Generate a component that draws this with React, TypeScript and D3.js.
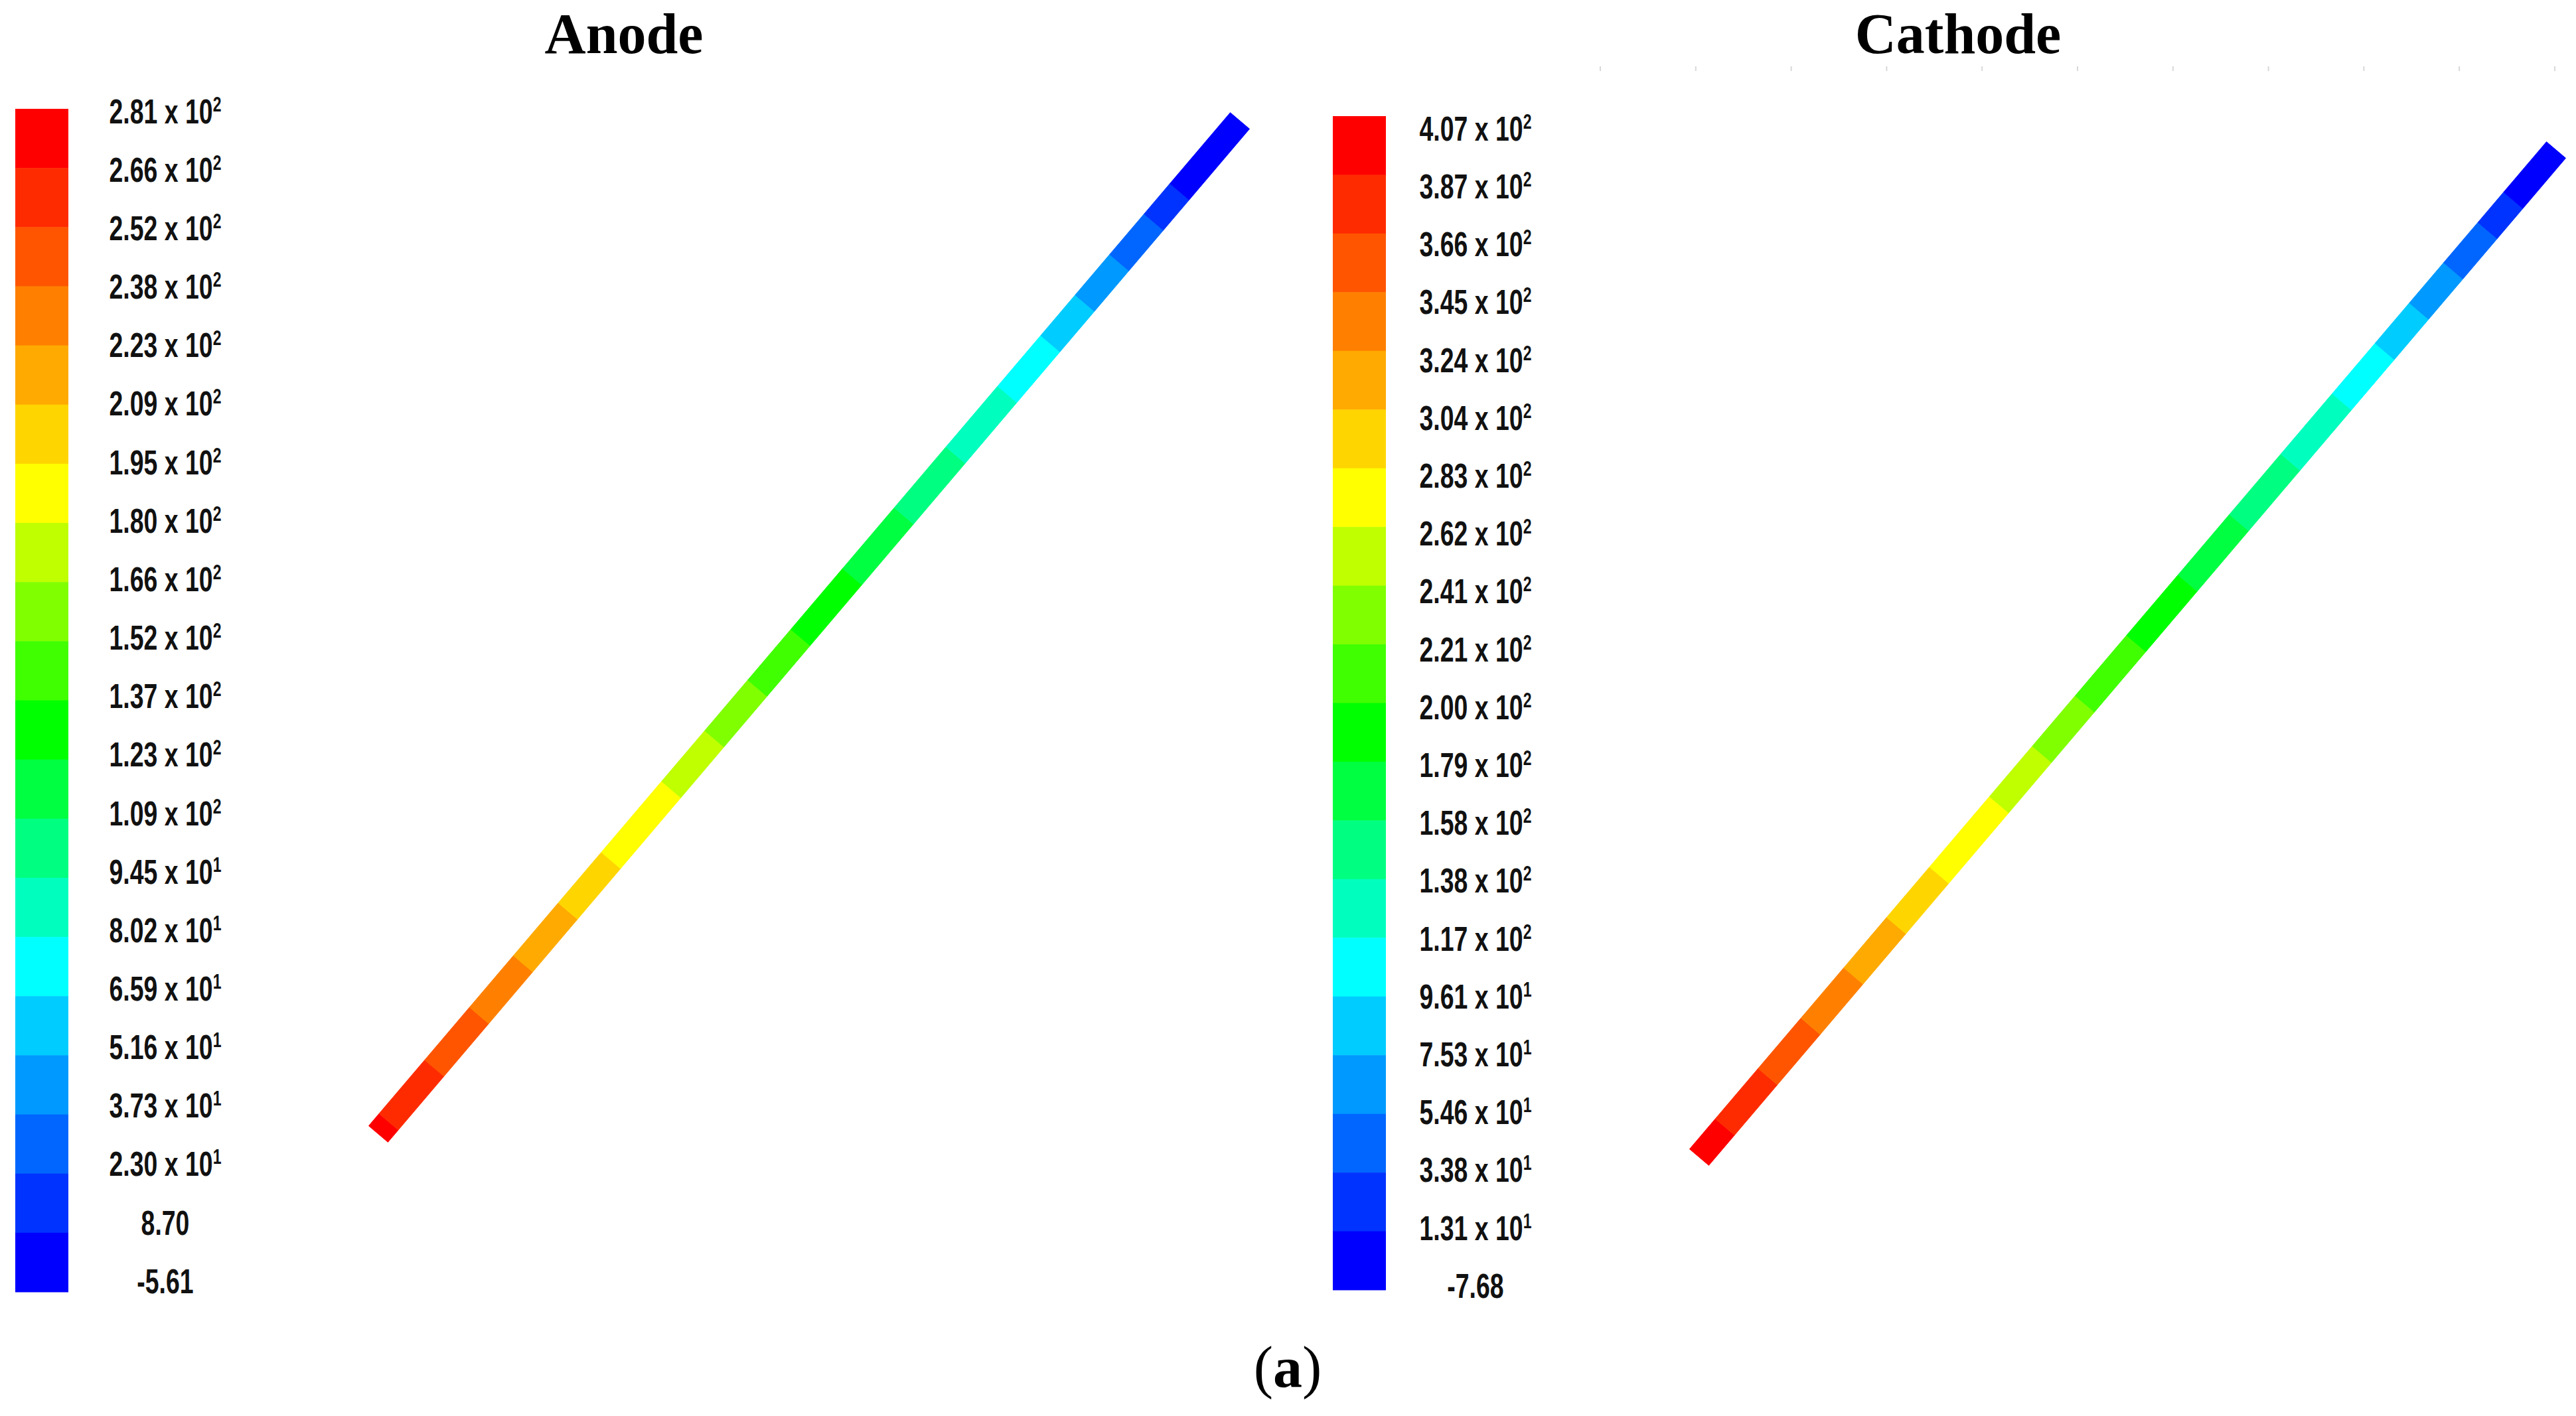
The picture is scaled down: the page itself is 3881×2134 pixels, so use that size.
import React from 'react';
import * as d3 from 'd3';

// contour levels shown on each colour bar (top -> bottom)
const anodeLevels = [281, 266, 252, 238, 223, 209, 195, 180, 166, 152, 137, 123, 109, 94.5, 80.2, 65.9, 51.6, 37.3, 23.0, 8.7, -5.61];
const cathodeLevels = [407, 387, 366, 345, 324, 304, 283, 262, 241, 221, 200, 179, 158, 138, 117, 96.1, 75.3, 54.6, 33.8, 13.1, -7.68];

// where the contour band changes along each electrode (0 = hot end, 1 = cold end)
const anodeBreaks = [0.012, 0.065, 0.117, 0.168, 0.22, 0.27, 0.34, 0.39, 0.44, 0.49, 0.55, 0.61, 0.67, 0.73, 0.78, 0.82, 0.86, 0.9, 0.93];
const cathodeBreaks = [0.03, 0.08, 0.13, 0.18, 0.23, 0.28, 0.35, 0.4, 0.45, 0.51, 0.57, 0.63, 0.69, 0.75, 0.8, 0.84, 0.88, 0.92, 0.95];

const titles = ['Anode', 'Cathode'];

const W = 3881;
const H = 2134;

// rainbow used by the solver: red at the top band, blue at the bottom one
const bandColor = d3
  .scaleLinear<string>()
  .domain([0, 6, 10, 14, 19])
  .range(['#ff0000', '#ffff00', '#00ff00', '#00ffff', '#0000ff'])
  .interpolate(d3.interpolateRgb);

function splitLabel(v: number) {
  const a = Math.abs(v);
  if (a >= 100) return { m: (v / 100).toFixed(2), e: '2' };
  if (a >= 10) return { m: (v / 10).toFixed(2), e: '1' };
  return { m: v.toFixed(2), e: null };
}

type PanelProps = {
  levels: number[];
  breaks: number[];
  title: string;
  titleX: number;
  barX: number;
  barTop: number;
  barBottom: number;
  labelX: number;
  labelTop: number;
  labelBottom: number;
  start: [number, number];
  end: [number, number];
};

const Panel = ({ levels, breaks, title, titleX, barX, barTop, barBottom, labelX, labelTop, labelBottom, start, end }: PanelProps) => {
  const nBands = levels.length - 1;
  const yBand = d3.scaleLinear().domain([0, nBands]).range([barTop, barBottom]);
  const yLabel = d3.scaleLinear().domain([0, nBands]).range([labelTop, labelBottom]);

  // electrode drawn as a thick strip, cut into the contour bands
  const along = d3.scaleLinear().domain([0, 1]);
  const px = along.copy().range([start[0], end[0]]);
  const py = along.copy().range([start[1], end[1]]);
  const dx = end[0] - start[0];
  const dy = end[1] - start[1];
  const len = Math.hypot(dx, dy);
  const half = 19;
  const nx = (-dy / len) * half;
  const ny = (dx / len) * half;
  const stops = [0, ...breaks, 1];
  const segs = d3.pairs(stops).map(([f0, f1], i) => {
    const pts = [
      [px(f0) + nx, py(f0) + ny],
      [px(f1) + nx, py(f1) + ny],
      [px(f1) - nx, py(f1) - ny],
      [px(f0) - nx, py(f0) - ny],
    ];
    return { pts: pts.map((p) => p.join(',')).join(' '), color: bandColor(i) };
  });

  return (
    <g>
      <text x={titleX} y={80} textAnchor="middle" fontFamily="'Liberation Serif', serif" fontWeight="bold" fontSize={86}>
        {title}
      </text>
      {d3.range(nBands).map((i) => (
        <rect key={i} x={barX} y={yBand(i)} width={80} height={yBand(i + 1) - yBand(i) + 0.5} fill={bandColor(i)} />
      ))}
      {levels.map((v, i) => {
        const { m, e } = splitLabel(v);
        return (
          <g key={i} transform={`translate(${labelX},${yLabel(i)}) scale(0.72,1)`}>
            <text textAnchor="middle" dy="0.36em" fontFamily="'Liberation Sans', Arial, sans-serif" fontWeight="bold" fontSize={52} fill="#111">
              {e ? `${m} x 10` : m}
              {e && (
                <tspan dy={-18} fontSize={32}>
                  {e}
                </tspan>
              )}
            </text>
          </g>
        );
      })}
      {segs.map((s, i) => (
        <polygon key={i} points={s.pts} fill={s.color} stroke={s.color} strokeWidth={1} />
      ))}
    </g>
  );
};

export default function App() {
  const tickX = d3.scaleLinear().domain([0, 10]).range([2411, 3849]);
  return (
    <svg width={W} height={H} style={{ position: 'absolute', left: 0, top: 0, background: '#fff' }}>
      <rect width={W} height={H} fill="#fff" />
      {d3.range(11).map((i) => (
        <line key={i} x1={tickX(i)} x2={tickX(i)} y1={100} y2={107} stroke="#d8d8d8" strokeWidth={2} />
      ))}
      <Panel
        levels={anodeLevels}
        breaks={anodeBreaks}
        title={titles[0]}
        titleX={940}
        barX={23}
        barTop={164}
        barBottom={1947}
        labelX={249}
        labelTop={167}
        labelBottom={1930}
        start={[570, 1709]}
        end={[1868, 182]}
      />
      <Panel
        levels={cathodeLevels}
        breaks={cathodeBreaks}
        title={titles[1]}
        titleX={2950}
        barX={2008}
        barTop={175}
        barBottom={1944}
        labelX={2223}
        labelTop={193}
        labelBottom={1937}
        start={[2560, 1744]}
        end={[3851, 226]}
      />
      <text x={1940} y={2090} textAnchor="middle" fontFamily="'Liberation Serif', serif" fontSize={88}>
        (<tspan fontWeight="bold">a</tspan>)
      </text>
    </svg>
  );
}
